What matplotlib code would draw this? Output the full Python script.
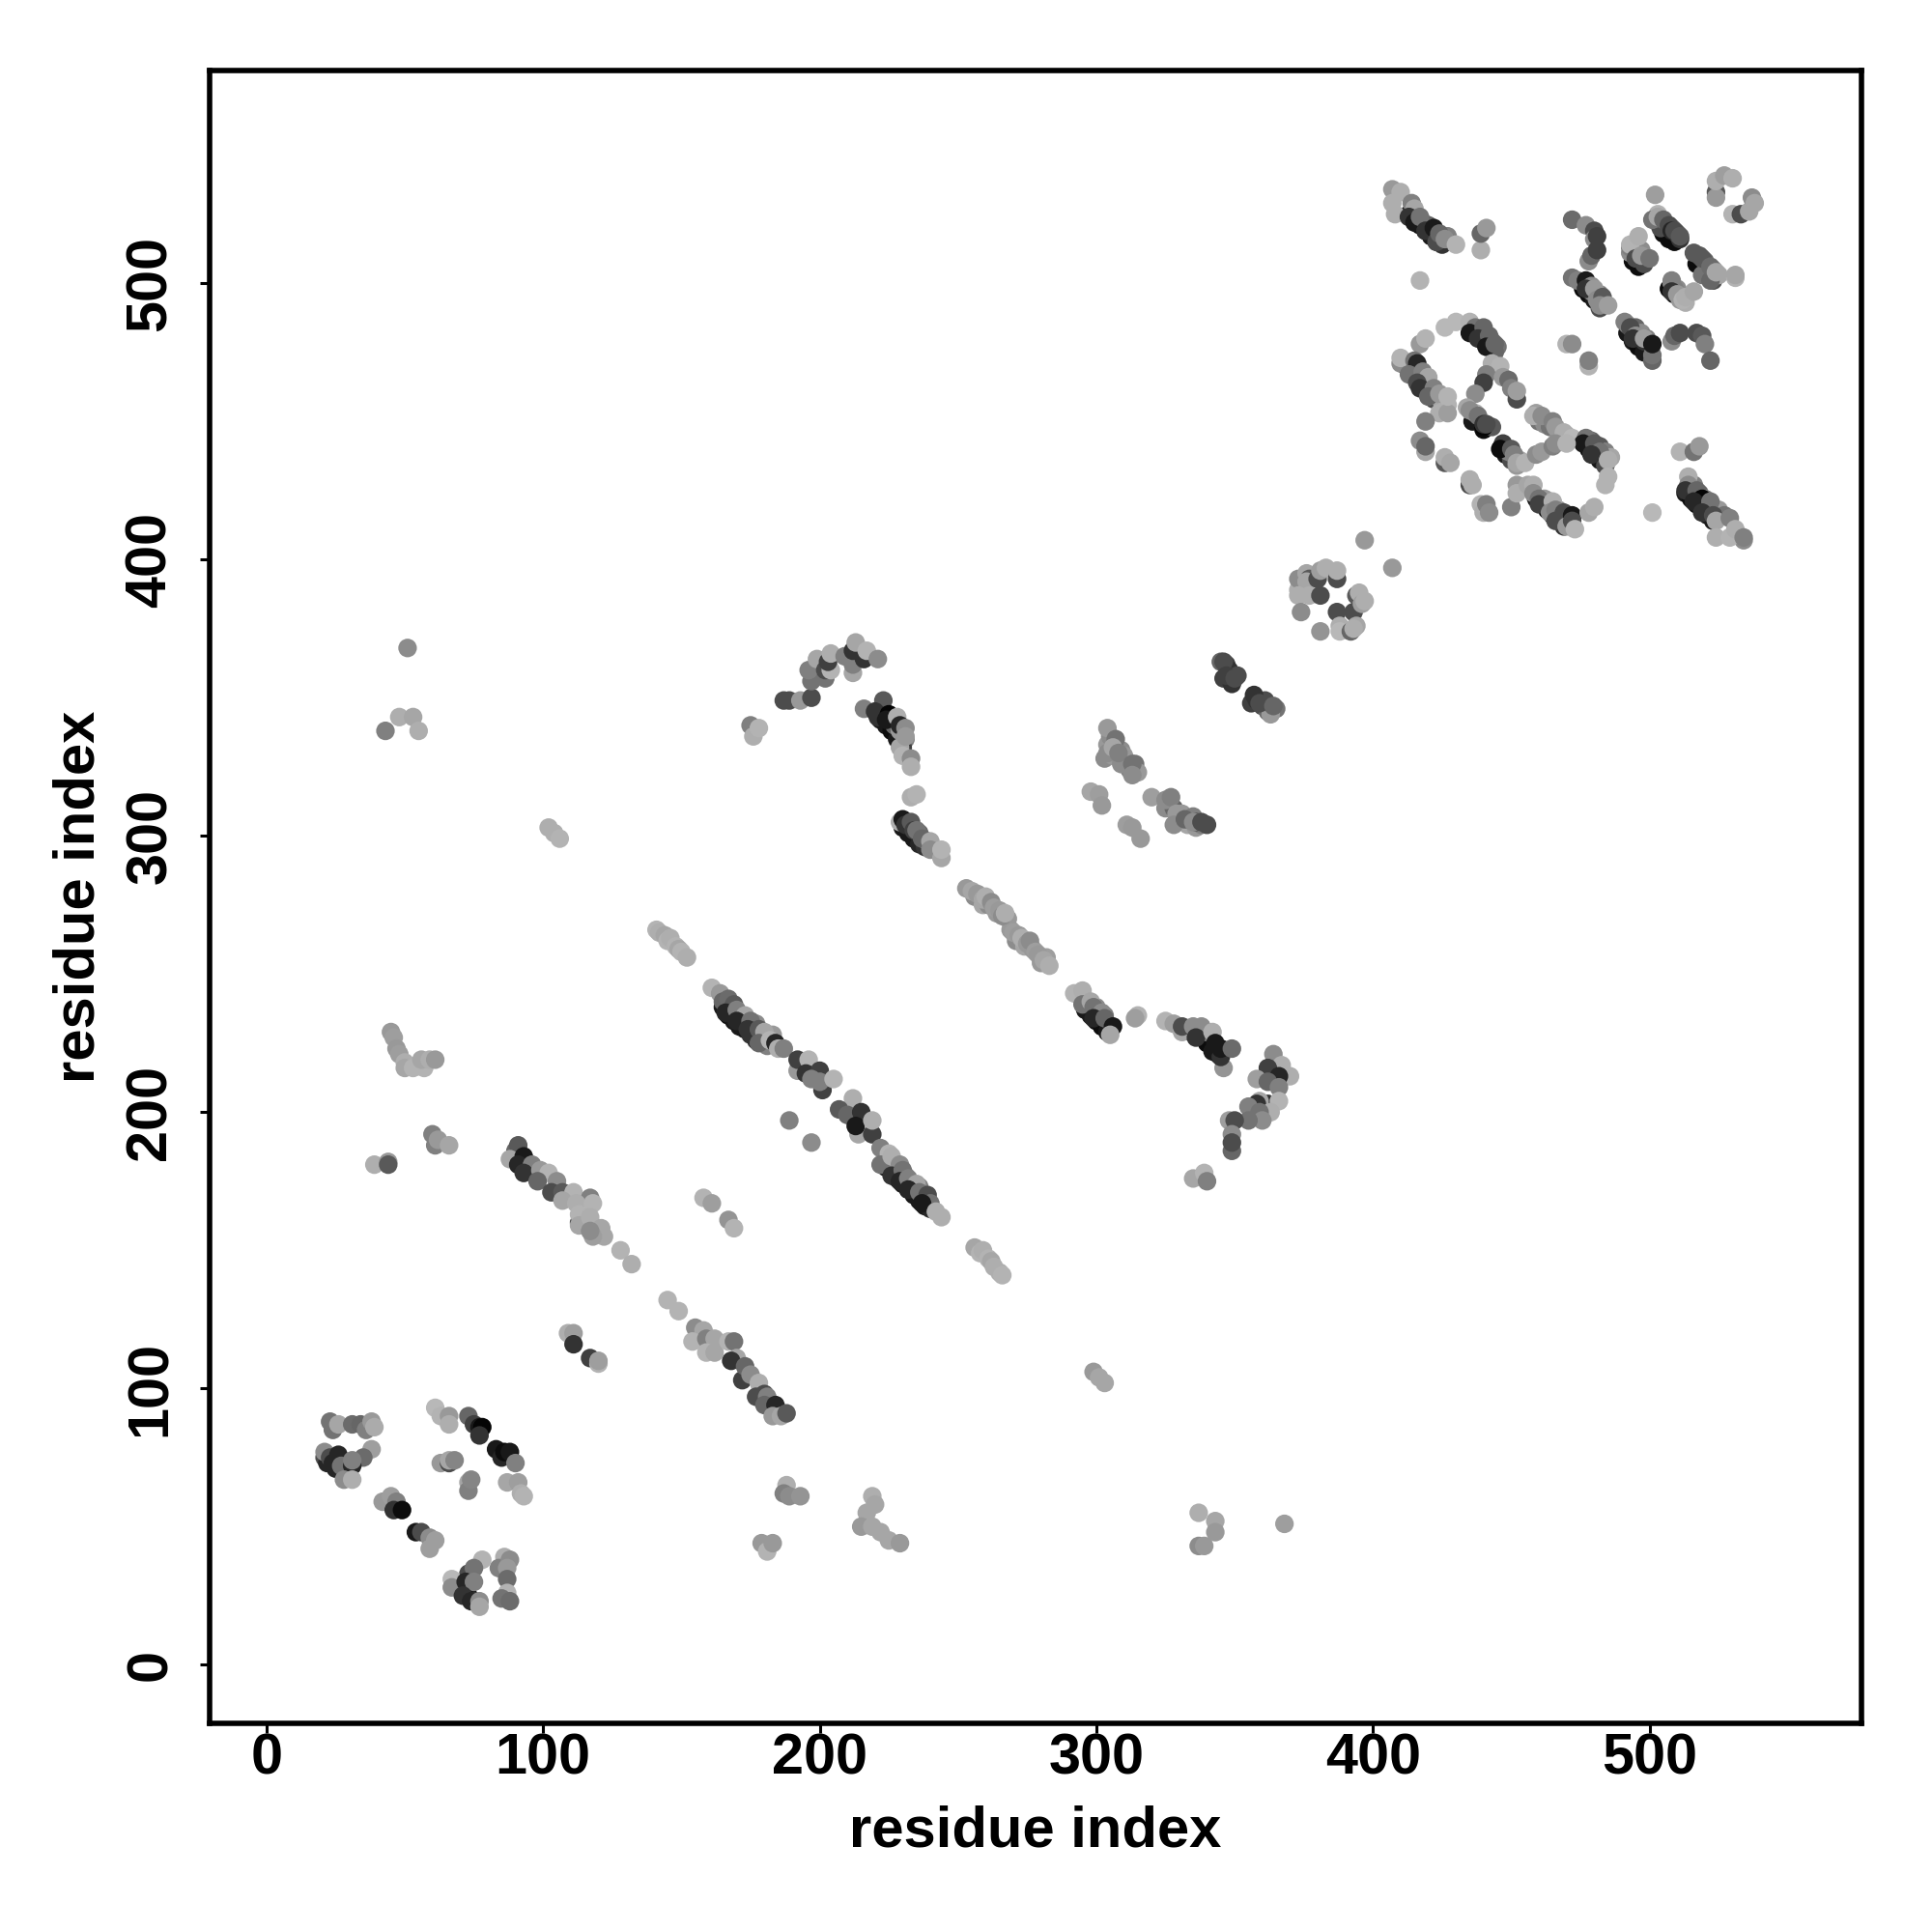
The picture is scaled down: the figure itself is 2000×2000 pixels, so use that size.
import matplotlib
matplotlib.use("Agg")
import matplotlib.pyplot as plt

# contacts grouped by region of the map: (residue i, residue j, grey level)
under_dark = [(165,238,.1),(167,235,.05),(169,233,.1),(171,231,.1),(173,230,.1),(175,228,.2),(177,226,.2),
              (224,180,.1),(226,178,.05),(228,176,.1),(230,174,.1),(232,172,.05),(234,170,.1),(236,168,.1),
              (238,166,.1),(240,165,.15),(413,525,.1),(415,523,.05),(417,521,.05),(419,519,.05),(421,517,.1),
              (423,515,.1),(425,514,.2),(437,483,.05),(439,481,.05),(441,479,.05),(443,477,.1),(412,470,.15),
              (414,467,.1),(416,465,.15),(418,463,.1),(420,460,.15),(422,458,.3),(438,450,.05),(440,447,.05),
              (448,438,.1),(478,440,.05),(480,438,.1),(482,436,.1),(484,434,.3),(459,422,.1),(461,420,.1),
              (463,418,.05),(465,416,.1),(467,414,.1),(469,412,.2),(513,424,.1),(515,422,.05),(517,420,.05),
              (519,418,.05),(521,416,.1),(523,414,.1),(492,482,.1),(494,479,.1),(496,477,.05),(498,475,.1),
              (476,498,.05),(478,496,.05),(480,494,.1),(482,491,.3),(505,518,.05),(507,516,.05),(509,515,.05),
              (511,516,.2),(517,507,.05),(519,505,.05),(521,503,.1),(523,501,.3),(494,508,.05),(496,506,.05),
              (507,498,.05),(509,496,.05),(230,303,.1),(232,301,.1),(234,299,.1),(236,297,.15),(238,296,.2),
              (222,342,.1),(224,340,.1),(226,338,.05),(228,335,.1),(296,237,.1),(298,235,.1),(300,233,.05),
              (302,231,.05),(304,229,.1),(338,227,.05),(340,225,.05),(342,223,.05),(344,221,.05),(21,75,.3),
              (22,73,.15),(25,71,.15),(72,27,.1),(73,25,.1),(75,23,.2),(73,33,.3)]
under_mid = [(167,238,.45),(172,235,.5),(177,232,.55),(179,227,.5),(183,228,.6),(181,224,.5),(224,183,.6),
             (227,180,.55),(231,177,.5),(233,174,.6),(236,173,.5),(238,169,.4),(418,522,.5),(420,521,.4),
             (421,519,.5),(427,517,.5),(440,482,.45),(443,479,.4),(445,477,.45),(444,475,.4),(413,470,.6),
             (417,467,.6),(419,464,.65),(421,462,.6),(423,459,.65),(425,457,.65),(427,456,.7),(443,448,.35),
             (450,436,.3),(452,434,.6),(453,436,.65),(449,439,.5),(460,450,.45),(462,449,.55),(464,448,.45),
             (467,446,.55),(470,445,.65),(468,444,.65),(479,443,.4),(482,441,.35),(484,439,.5),(486,437,.65),
             (478,443,.5),(462,422,.6),(464,421,.6),(467,418,.55),(470,416,.3),(472,415,.25),(470,413,.5),
             (516,427,.5),(518,424,.4),(520,422,.5),(522,419,.5),(525,418,.6),(527,416,.45),(534,407,.55),
             (532,409,.65),(492,485,.55),(495,484,.4),(497,482,.55),(499,480,.5),(476,500,.5),(479,497,.55),
             (482,496,.5),(503,522,.5),(506,521,.5),(508,520,.4),(510,518,.35),(504,520,.3),(518,510,.35),
             (520,508,.4),(523,505,.5),(525,503,.65),(498,507,.3),(494,512,.6),(497,512,.55),(511,494,.6),
             (513,493,.68),(508,500,.5),(510,498,.55),(232,304,.3),(236,301,.4),(239,298,.55),(227,340,.4),
             (229,338,.6),(231,335,.5),(296,240,.5),(300,238,.55),(303,235,.5),(334,229,.3),(340,229,.5),
             (304,333,.6),(305,336,.55),(307,333,.5),(309,331,.55),(310,329,.6),(312,324,.5),(314,326,.45),
             (315,323,.6),(303,328,.55),(306,329,.6),(309,326,.55),(325,310,.55),(328,310,.4),(331,308,.6),
             (333,304,.65),(336,303,.6),(335,307,.5),(338,304,.5),(340,304,.3),(336,305,.3),(345,363,.4),
             (347,362,.25),(348,360,.2),(346,357,.25),(349,355,.2),(351,358,.3),(356,348,.25),(358,349,.2),
             (360,347,.3),(361,349,.3),(362,345,.4),(365,346,.45),(363,344,.6),(256,278,.55),(259,275,.65),
             (261,275,.55),(264,272,.6),(268,270,.6),(269,266,.6),(271,262,.55),(274,260,.65),(277,259,.6),
             (280,254,.6),(282,256,.62)]
helix_a = [(23,88,.45),(24,85,.45),(26,87,.65),(31,87,.42),(34,87,.4),(36,85,.5),(38,88,.6),(39,86,.67),
           (21,77,.55),(23,75,.3),(24,73,.15),(26,76,.15),(27,72,.45),(38,78,.62),(35,75,.42),(31,72,.15),
           (31,74,.5),(28,67,.55),(31,67,.68)]
helix_b = [(42,59,.6),(45,61,.62),(47,59,.5),(46,56,.2),(49,56,.05),(54,48,.1),(56,48,.3),(59,46,.55),
           (61,45,.62),(59,42,.62)]
helix_c = [(61,93,.72),(63,90,.7),(66,90,.6),(66,87,.68),(73,90,.4),(75,87,.25),(77,86,.1),(78,86,.02),
           (77,83,.2),(83,78,.1),(85,75,.15),(86,77,.05),(88,77,.1),(90,73,.5),(87,66,.65),(91,66,.62),
           (92,62,.68),(93,61,.7),(63,73,.6),(66,73,.3),(66,74,.65),(68,74,.52),(73,66,.65),(73,63,.5),(74,67,.52)]
helix_d = [(78,38,.7),(75,35,.45),(67,31,.72),(67,28,.55),(72,30,.15),(75,30,.5),(71,25,.2),(74,23,.15),
           (77,23,.55),(77,21,.65),(86,39,.68),(84,35,.5),(88,38,.55),(87,35,.6),(87,31,.42),(87,26,.7),
           (85,24,.45),(88,23,.42)]
far_left = [(51,368,.55),(48,343,.68),(53,343,.65),(55,338,.68),(43,338,.5),(39,181,.68),(44,182,.6),(44,181,.35),
            (60,192,.5),(61,188,.5),(62,190,.6),(66,188,.65),(45,229,.6),(46,227,.62),(47,223,.6),(48,221,.62),
            (50,218,.68),(50,216,.65),(53,216,.7),(57,216,.7),(56,219,.65),(59,219,.68),(61,219,.6)]
strand_a = [(90,186,.4),(91,188,.35),(88,183,.65),(93,184,.1),(91,181,.15),(96,181,.5),(93,178,.2),(99,179,.6),
            (102,178,.7),(98,175,.4),(105,175,.55),(103,171,.3),(107,171,.35),(111,171,.7),(107,168,.65),
            (117,169,.5),(112,167,.68),(118,167,.7),(113,160,.3),(113,163,.7),(113,159,.65),(117,162,.68),
            (121,158,.65),(122,155,.65),(118,155,.62),(117,157,.55),(128,150,.7),(132,145,.68),(145,132,.7),
            (149,128,.7),(109,120,.68),(111,120,.62),(111,116,.2),(117,111,.25),(120,109,.7),(120,110,.62)]
strand_b = [(155,122,.55),(158,121,.65),(154,117,.7),(159,118,.5),(162,118,.65),(159,113,.7),(162,113,.65),
            (167,117,.7),(169,117,.45),(170,111,.65),(168,110,.2),(172,103,.25),(173,108,.4),(175,105,.55),
            (178,102,.68),(180,98,.3),(177,97,.3),(181,97,.5),(180,94,.4),(184,94,.15),(183,90,.6),(186,90,.65),
            (188,91,.35)]
pale_runs = [(102,303,.68),(104,301,.68),(106,299,.7),(141,266,.7),(142,265,.68),(144,264,.65),(145,262,.7),
             (146,263,.68),(148,260,.7),(149,259,.65),(150,258,.7),(152,256,.68),(256,151,.65),(258,149,.7),
             (259,150,.68),(261,147,.7),(262,146,.65),(263,144,.68),(265,142,.68),(266,141,.7),(299,106,.6),
             (301,104,.65),(303,102,.65)]
strand_c = [(161,245,.7),(164,243,.6),(165,240,.4),(167,241,.42),(169,239,.35),(166,236,.15),(170,237,.5),
            (173,235,.65),(170,233,.15),(175,233,.45),(174,230,.2),(178,230,.35),(180,229,.65),(178,225,.4),
            (182,226,.7),(184,225,.15),(185,223,.68),(187,223,.5),(192,215,.6),(192,219,.25),(196,219,.7),
            (195,214,.2),(201,208,.25),(200,215,.25),(197,212,.5),(200,211,.5),(205,212,.7),(212,205,.68),
            (207,201,.35),(210,199,.4),(215,200,.2),(214,192,.65),(213,195,.1),(219,192,.25),(219,197,.68)]
strand_d = [(189,197,.5),(197,189,.55),(158,169,.7),(161,167,.62),(167,161,.58),(169,158,.7),(222,187,.5),
            (225,185,.7),(222,181,.45),(226,184,.68),(229,181,.55),(226,177,.2),(230,179,.45),(229,175,.15),
            (232,176,.5),(235,174,.65),(232,172,.15),(236,171,.45),(239,170,.3),(240,167,.45),(237,167,.1),
            (242,164,.68),(244,162,.68)]
upper_arc = [(175,340,.5),(176,336,.68),(178,339,.7),(187,349,.3),(189,349,.3),(193,349,.6),(197,350,.3),
             (197,356,.45),(196,360,.5),(199,364,.65),(202,357,.45),(202,360,.3),(204,360,.7),(203,363,.25),
             (204,366,.68),(209,365,.5),(212,359,.65),(212,362,.5),(212,367,.2),(213,370,.65),(216,364,.2),
             (217,367,.7),(221,364,.55),(216,346,.5),(223,349,.35),(220,345,.2),(221,343,.2),(225,344,.02),
             (224,342,.1),(228,343,.68),(229,340,.15),(231,339,.55),(230,332,.25),(229,332,.65),(231,336,.6),
             (230,329,.7),(233,328,.55),(233,325,.68),(233,314,.68),(235,315,.7),(229,305,.68),(230,306,.1),
             (231,304,.2),(233,305,.35),(234,302,.25),(235,302,.45),(237,299,.4),(240,298,.65),(240,295,.55),
             (244,292,.65),(244,295,.7)]
strand_e = [(253,281,.6),(255,280,.65),(257,279,.6),(259,277,.65),(260,278,.68),(262,276,.55),(263,274,.62),
            (265,273,.6),(266,271,.55),(267,272,.68),(270,265,.62),(272,264,.6),(273,263,.68),(275,261,.6),
            (276,262,.55),(278,258,.62),(279,257,.6),(281,255,.65),(283,253,.68)]
strand_f = [(292,243,.7),(295,244,.68),(295,239,.45),(298,240,.65),(299,238,.45),(302,236,.55),(299,234,.15),
            (303,234,.4),(306,231,.1),(305,228,.65),(315,235,.7),(314,234,.62),(325,233,.7),(328,232,.62),
            (331,229,.65),(331,231,.3),(335,231,.55),(338,231,.55),(336,227,.2),(342,229,.68),(343,225,.1),
            (342,222,.1),(346,216,.58),(345,220,.2),(345,223,.1),(349,223,.42)]
hook = [(364,221,.55),(367,217,.68),(362,216,.25),(370,213,.68),(366,213,.15),(358,212,.62),(362,211,.4),
        (366,209,.5),(362,203,.2),(366,204,.7),(359,204,.65),(358,203,.2),(355,202,.5),(363,200,.68),
        (359,200,.45),(360,197,.55),(355,197,.45),(348,197,.62),(350,197,.3),(349,192,.55),(349,186,.4),
        (349,189,.3),(335,176,.65),(339,178,.7),(340,175,.5)]
mid_block = [(298,316,.65),(301,315,.62),(302,311,.6),(304,339,.6),(304,330,.55),(307,335,.45),(306,332,.65),
             (308,330,.5),(313,326,.45),(313,322,.55),(311,304,.62),(313,303,.6),(316,299,.6),(320,314,.62),
             (325,313,.55),(327,314,.5),(329,308,.6),(328,304,.55),(332,306,.4),(335,305,.55),(338,305,.3),
             (346,363,.3),(347,358,.25),(350,357,.3),(357,351,.2),(359,348,.3),(364,347,.4)]
ball = [(373,389,.68),(373,393,.55),(376,395,.65),(377,393,.35),(376,392,.65),(380,393,.3),(381,396,.62),
        (383,397,.68),(387,393,.3),(387,396,.68),(373,387,.68),(377,387,.68),(381,387,.3),(374,381,.55),
        (381,374,.58),(387,381,.3),(388,376,.68),(388,374,.72),(394,387,.35),(395,388,.68),(393,381,.3),
        (394,376,.65),(392,374,.4),(393,375,.68),(396,384,.62),(397,385,.68),(397,407,.6),(407,397,.6)]
top_right = [(407,534,.6),(410,533,.68),(407,529,.68),(408,525,.68),(414,529,.5),(415,527,.65),(413,524,.2),
             (415,522,.1),(417,524,.45),(419,519,.2),(422,520,.1),(423,515,.3),(424,518,.4),(426,516,.55),
             (430,514,.7),(439,512,.68),(439,518,.4),(441,520,.6),(417,501,.7),(472,523,.42),(477,521,.55),
             (480,519,.3),(480,516,.55),(481,517,.25),(478,508,.55),(479,510,.4),(481,512,.25),(472,502,.45),
             (474,501,.5),(477,501,.1),(479,499,.55),(477,498,.2),(480,498,.6),(481,494,.55),(483,495,.35),
             (482,492,.55),(485,492,.62),(491,486,.5),(493,484,.3),(495,481,.55),(494,480,.2),(498,479,.2),
             (498,480,.62),(501,472,.4),(501,474,.45),(501,478,.1),(508,479,.55),(509,481,.4),(511,482,.3),
             (517,482,.3),(519,481,.35),(520,478,.5),(522,472,.4),(470,478,.7),(472,478,.55),(478,470,.7),(478,472,.5)]
corner = [(502,532,.62),(503,525,.7),(501,523,.45),(503,524,.65),(505,523,.4),(507,521,.3),(508,519,.15),
          (509,519,.3),(511,517,.35),(493,511,.55),(493,513,.5),(493,514,.7),(496,517,.68),(495,509,.3),
          (497,510,.6),(500,509,.45),(519,503,.45),(522,501,.4),(516,511,.35),(519,509,.35),(522,506,.42),
          (524,504,.65),(531,502,.7),(531,503,.65),(508,501,.5),(509,498,.5),(508,497,.2),(510,496,.6),
          (512,494,.7),(513,495,.68),(516,497,.65),(524,533,.35),(524,531,.6),(524,537,.68),(527,539,.62),
          (530,538,.68),(530,525,.7),(533,525,.3),(536,526,.65),(537,531,.55),(538,529,.65)]
sheet_left = [(417,478,.6),(419,480,.7),(426,484,.72),(430,486,.72),(410,471,.55),(410,473,.7),(415,472,.45),
              (416,471,.15),(413,467,.45),(418,468,.5),(420,466,.65),(416,464,.3),(417,462,.2),(422,462,.5),
              (420,459,.4),(424,460,.6),(424,453,.68),(427,453,.62),(427,459,.7),(419,450,.5),(417,443,.55),
              (419,439,.65),(419,441,.4),(426,435,.35),(426,437,.68),(428,435,.65),(435,427,.3),(435,429,.68),
              (436,427,.68),(439,420,.7),(440,417,.68),(441,420,.5),(442,417,.55),(450,419,.5)]
sheet_mid = [(435,486,.7),(437,484,.45),(435,482,.1),(440,484,.4),(438,480,.2),(442,481,.4),(441,477,.1),
             (444,478,.4),(443,471,.68),(446,470,.7),(441,467,.5),(440,464,.25),(447,466,.6),(449,465,.42),
             (450,462,.5),(452,458,.3),(452,461,.62),(437,460,.55),(434,455,.65),(436,450,.1),(437,453,.68),
             (435,454,.55),(438,452,.45),(440,448,.02),(440,449,.2),(441,449,.3)]
sheet_low = [(459,453,.62),(458,452,.68),(461,452,.55),(465,450,.5),(466,448,.6),(469,446,.68),(472,444,.72),
             (477,444,.45),(476,442,.1),(480,442,.35),(482,439,.45),(479,438,.2),(485,436,.68),(485,430,.7),
             (484,427,.7),(447,442,.25),(446,440,.05),(450,440,.35),(451,438,.5),(452,435,.65),(455,435,.7),
             (459,438,.55),(461,439,.6),(465,441,.5),(466,442,.55),(470,442,.7)]
sheet_end = [(452,427,.6),(452,424,.68),(456,427,.65),(458,427,.68),(458,424,.55),(460,422,.45),(460,420,.25),
             (465,421,.68),(464,417,.55),(466,418,.5),(466,414,.3),(469,417,.3),(472,416,.1),(470,412,.6),
             (472,414,.3),(473,411,.7),(478,417,.65),(480,419,.68),(511,439,.7),(516,439,.45),(518,441,.6),
             (501,417,.72),(514,430,.68),(514,427,.55),(513,425,.2),(517,425,.4),(519,422,.02),(516,421,.15),
             (522,421,.45),(519,417,.2),(523,416,.3),(524,414,.65),(529,415,.5),(524,408,.68),(529,408,.7),
             (531,411,.68),(534,408,.5)]
scattered = [(179,44,.6),(181,41,.7),(183,44,.6),(188,65,.68),(187,62,.5),(189,61,.55),(193,61,.58),(219,61,.68),
             (220,58,.65),(217,55,.65),(215,50,.6),(219,50,.65),(222,48,.65),(225,45,.65),(229,44,.6),(337,55,.68),
             (343,52,.65),(343,48,.6),(337,43,.55),(339,43,.6),(368,51,.62)]

regions = [under_dark, under_mid, helix_a, helix_b, helix_c, helix_d, far_left, strand_a, strand_b, pale_runs,
           strand_c, strand_d, upper_arc, strand_e, strand_f, hook, mid_block, ball, top_right, corner,
           sheet_left, sheet_mid, sheet_low, sheet_end, scattered]

tick_vals = [0, 100, 200, 300, 400, 500]

plt.rcParams["font.family"] = ["Liberation Sans", "DejaVu Sans"]

fig = plt.figure(figsize=(10, 10), dpi=200)
ax = fig.add_axes([0.1083, 0.108, 0.8552, 0.8555])

for region in regions:
    xs = [p[0] for p in region]
    ys = [p[1] for p in region]
    levels = [p[2] for p in region]
    ax.scatter(xs, ys, c=levels, cmap="gray", vmin=0, vmax=1, s=48, linewidths=0, zorder=3)

ax.set_xlim(-20.7, 576.6)
ax.set_ylim(-21.2, 577)
ax.set_xticks(tick_vals)
ax.set_yticks(tick_vals)
ax.tick_params(axis="both", length=3.5, width=1.1, labelsize=21.4)
ax.tick_params(axis="x", pad=0)
ax.tick_params(axis="y", pad=8.3)
for lab in ax.get_xticklabels():
    lab.set_fontweight("bold")
for lab in ax.get_yticklabels():
    lab.set_fontweight("bold")
    lab.set_rotation(90)
    lab.set_verticalalignment("center")
for spine in ax.spines.values():
    spine.set_linewidth(2.0)

ax.set_xlabel("residue index", fontsize=21.5, fontweight="bold", va="center")
ax.set_ylabel("residue index", fontsize=21.5, fontweight="bold", va="center")
ax.xaxis.set_label_coords(0.536, 0.052, transform=fig.transFigure)
ax.yaxis.set_label_coords(0.041, 0.536, transform=fig.transFigure)

fig.savefig("out.png", dpi=200)
